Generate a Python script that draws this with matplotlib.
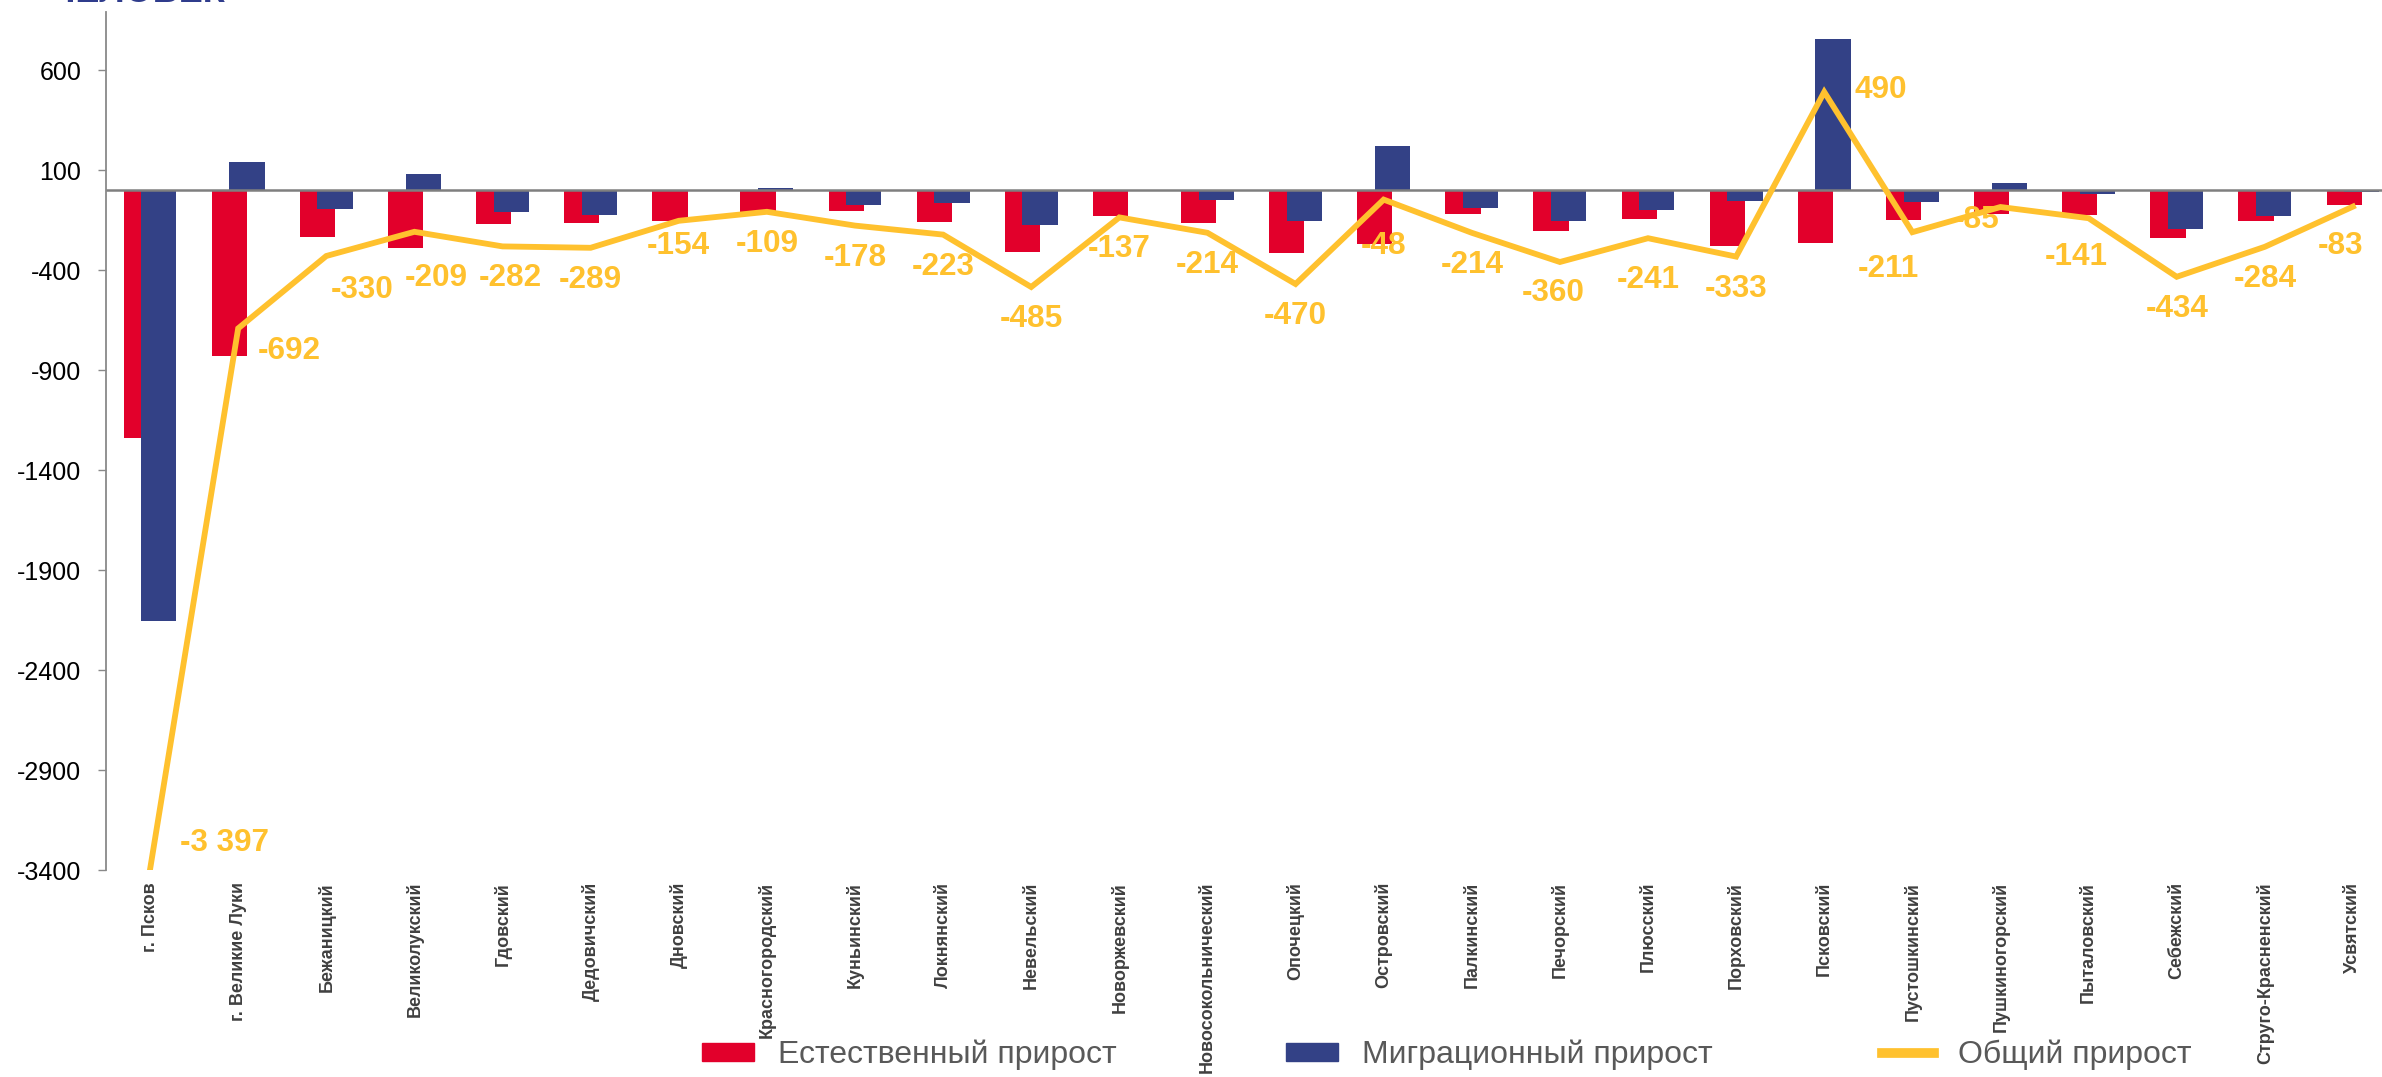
import matplotlib
matplotlib.use("Agg")
import matplotlib.pyplot as plt
import numpy as np
from matplotlib.patches import Patch
from matplotlib.lines import Line2D

categories = ["г. Псков", "г. Великие Луки", "Бежаницкий", "Великолукский", "Гдовский",
              "Дедовичский", "Дновский", "Красногородский", "Куньинский", "Локнянский",
              "Невельский", "Новоржевский", "Новосокольнический", "Опочецкий", "Островский",
              "Палкинский", "Печорский", "Плюсский", "Порховский", "Псковский",
              "Пустошкинский", "Пушкиногорский", "Пыталовский", "Себежский",
              "Струго-Красненский", "Усвятский"]
natural = [-1240, -832, -233, -289, -172, -164, -153, -117, -103, -158,
           -309, -130, -164, -315, -268, -122, -204, -143, -279, -267,
           -152, -118, -123, -239, -156, -75]
migration = [-2157, 140, -97, 80, -110, -125, -1, 8, -75, -65,
             -176, -7, -50, -155, 220, -92, -156, -98, -54, 757,
             -59, 33, -18, -195, -128, -8]
total = [-3397, -692, -330, -209, -282, -289, -154, -109, -178, -223,
         -485, -137, -214, -470, -48, -214, -360, -241, -333, 490,
         -211, -85, -141, -434, -284, -83]
yticks = [600, 100, -400, -900, -1400, -1900, -2400, -2900, -3400]
legend_labels = ["Естественный прирост", "Миграционный прирост", "Общий прирост"]
title_text = "ЧЕЛОВЕК"

# label offsets in pixels (dx, dy, ha)
label_offsets = {0: (30, 26, "left"), 1: (20, -23, "left"), 2: (36, -34, "center"),
                 3: (22, -46, "center"), 4: (8, -32, "center"), 19: (30, 2, "left"),
                 14: (0, -46, "center"), 17: (0, -42, "center"), 16: (-7, -31, "center"),
                 20: (-24, -37, "center"), 21: (-24, -13, "center"), 22: (-12, -39, "center"),
                 25: (-12, -39, "center"), 6: (0, -25, "center")}

RED = "#E2002B"
NAVY = "#334186"
YELLOW = "#FFC12E"

plt.rcParams["font.family"] = ["Liberation Sans", "DejaVu Sans"]

W, H = 2382, 1077
fig = plt.figure(figsize=(W / 100, H / 100), dpi=100)
ax = fig.add_axes([106 / W, 207 / H, 2291 / W, (1065 - 207) / H])

x = np.arange(len(categories))
bw = 0.4
ax.bar(x - 0.1, natural, width=bw, color=RED, zorder=2)
ax.bar(x + 0.1, migration, width=bw, color=NAVY, zorder=2.1)
ax.axhline(0, color="#7f7f7f", lw=1.8, zorder=2.5)
ax.plot(x, total, color=YELLOW, lw=4.2, zorder=3, solid_joinstyle="miter")

for i, v in enumerate(total):
    dx, dy, ha = label_offsets.get(i, (0, -32, "center"))
    txt = f"{v:,}".replace(",", " ")
    ax.annotate(txt, (x[i], v), xytext=(dx * 0.72, dy * 0.72), textcoords="offset points",
                ha=ha, va="center", fontsize=22.7, fontweight="bold", color=YELLOW, zorder=4)

ax.set_xlim(-0.5, len(categories) - 0.5)
ax.set_ylim(-3400, 890)
ax.set_yticks(yticks)
ax.set_yticklabels([str(t) for t in yticks], fontsize=18, color="black")
ax.tick_params(axis="y", length=5.8, width=1, color="#898989", pad=12)
ax.set_xticks(x)
ax.set_xticklabels(categories, rotation=90, fontsize=13, fontweight="bold", color="#404040",
                   va="top", ha="center")
ax.tick_params(axis="x", length=0, pad=8.6)
for s in ["top", "right", "bottom"]:
    ax.spines[s].set_visible(False)
ax.spines["left"].set_color("#898989")
ax.spines["left"].set_linewidth(1.3)

handles = [Patch(color=RED), Patch(color=NAVY), Line2D([0], [0], color=YELLOW, lw=7)]
leg = fig.legend(handles, legend_labels, loc="center left", bbox_to_anchor=(702 / W, 22 / H),
                 ncol=3, frameon=False, fontsize=23, handlelength=1.63, handleheight=0.47,
                 handletextpad=0.75, columnspacing=5.3, borderpad=0, borderaxespad=0)
for t in leg.get_texts():
    t.set_color("#595959")

fig.text(50 / W, 1 - 2.3 / H, title_text, fontsize=26, fontweight="bold", color="#2F3C8C",
         ha="left", va="baseline")

fig.savefig("out.png", dpi=100)
